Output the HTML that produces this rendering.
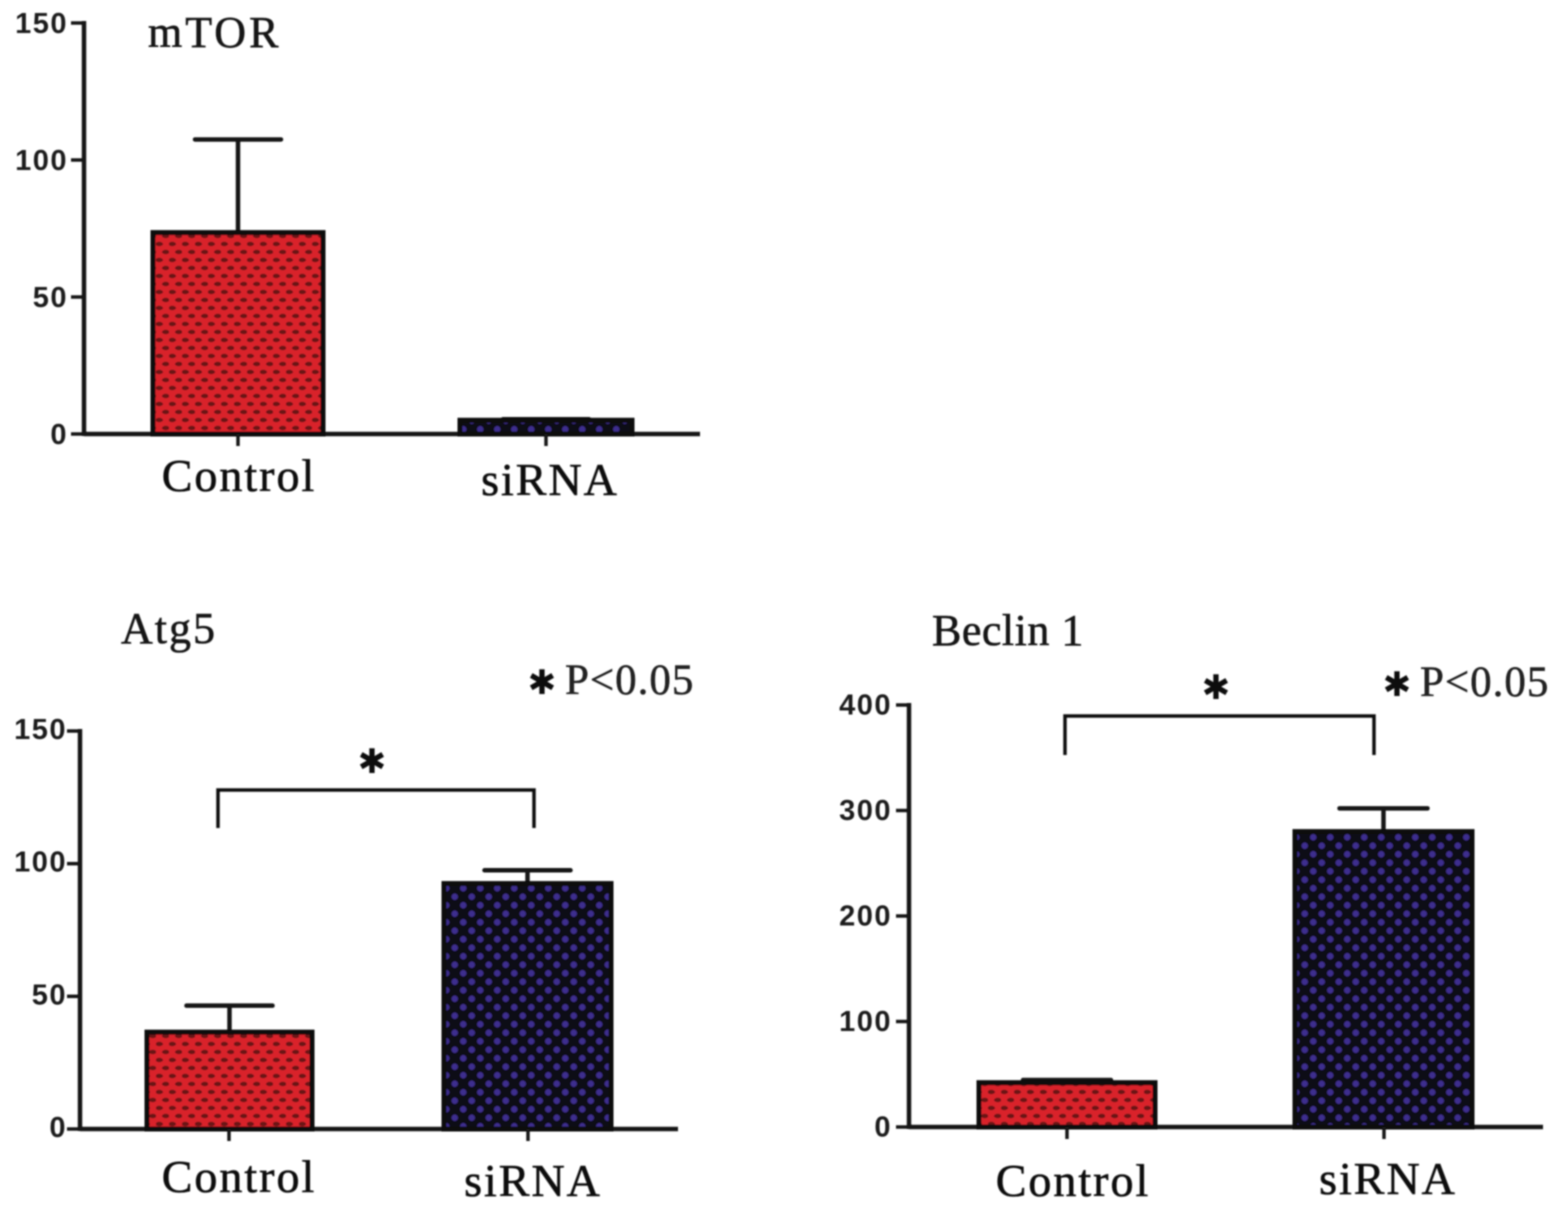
<!DOCTYPE html>
<html lang="en">
<head>
<meta charset="utf-8">
<title>mTOR, Atg5 and Beclin 1 bar charts</title>
<style>
html,body{margin:0;padding:0;background:#fff;}
body{width:1559px;height:1208px;overflow:hidden;}
svg{display:block;}
.tick{font-family:"Liberation Sans",sans-serif;font-weight:bold;font-size:29px;letter-spacing:1.5px;fill:#1c1c1c;text-anchor:end;}
.cat{font-family:"Liberation Serif",serif;font-size:46px;letter-spacing:2px;fill:#111;stroke:#111;stroke-width:0.6px;text-anchor:middle;}
.title{font-family:"Liberation Serif",serif;font-size:44px;fill:#161616;stroke:#161616;stroke-width:0.6px;}
.pval{font-family:"Liberation Serif",serif;font-size:43px;letter-spacing:1px;fill:#222;stroke:#222;stroke-width:0.5px;}
.star{font-family:"DejaVu Sans",sans-serif;font-size:34px;fill:#111;text-anchor:middle;}
</style>
</head>
<body>
<svg id="chart" xmlns="http://www.w3.org/2000/svg" width="1559" height="1208" viewBox="0 0 1559 1208">
  <defs>
    <filter id="soft" x="-2%" y="-2%" width="104%" height="104%"><feGaussianBlur stdDeviation="0.7"/></filter>
    <pattern id="red-fill" patternUnits="userSpaceOnUse" width="13" height="16">
      <rect width="13" height="16" fill="#d92029"/>
      <ellipse cx="3.25" cy="4" rx="3.8" ry="2.2" fill="#6a1416"/>
      <ellipse cx="9.75" cy="12" rx="3.8" ry="2.2" fill="#6a1416"/>
    </pattern>
    <pattern id="navy-fill" patternUnits="userSpaceOnUse" width="17" height="17">
      <rect width="17" height="17" fill="#0d0a16"/>
      <circle cx="4.25" cy="4.25" r="3.2" fill="#3d2d8e"/>
      <circle cx="12.75" cy="12.75" r="3.2" fill="#3d2d8e"/>
    </pattern>
  </defs>
  <g id="plots" filter="url(#soft)"></g>

  <g filter="url(#soft)">
  <text class="title" x="148" y="47" letter-spacing="3">mTOR</text>
  <text class="title" x="121" y="643" letter-spacing="2">Atg5</text>
  <text class="title" x="932" y="645" letter-spacing="0.5">Beclin 1</text>

  <text class="star" x="542" y="694">✱</text>
  <text class="pval" x="565" y="694">P&lt;0.05</text>
  <text class="star" x="1397" y="696">✱</text>
  <text class="pval" x="1420" y="696">P&lt;0.05</text>

  <text class="star" x="372" y="773">✱</text>
  <text class="star" x="1216" y="699">✱</text>

  <path d="M218 828V790H534V828" fill="none" stroke="#111" stroke-width="3.5"/>
  <path d="M1065 755V716H1374V755" fill="none" stroke="#111" stroke-width="3.5"/>
  </g>
</svg>
<script>
const categories = ["Control", "siRNA"];

const mtorValues = [73.5, 5];
const mtorErrors = [34, 0.4];
const mtorTicks = [0, 50, 100, 150];

const atg5Values = [36.5, 92.5];
const atg5Errors = [10, 5];
const atg5Ticks = [0, 50, 100, 150];

const beclinValues = [42, 280];
const beclinErrors = [2.5, 22];
const beclinTicks = [0, 100, 200, 300, 400];

const NS = "http://www.w3.org/2000/svg";
const plots = document.getElementById("plots");

function mk(tag, attrs, text) {
  const el = document.createElementNS(NS, tag);
  for (const k in attrs) el.setAttribute(k, attrs[k]);
  if (text !== undefined) el.textContent = text;
  plots.appendChild(el);
  return el;
}

function drawPanel(p) {
  const maxV = p.ticks[p.ticks.length - 1];
  const y = v => p.y0 + (p.yTop - p.y0) * v / maxV;
  const stroke = "#141414";

  const yAxis = mk("line", {x1: p.axisX, x2: p.axisX, y1: y(maxV) - 2, y2: p.y0 + 2, stroke: stroke, "stroke-width": 4.5});
  
  

  const xAxis = mk("line", {x1: p.axisX, x2: p.axisEnd, y1: p.y0, y2: p.y0, stroke: stroke, "stroke-width": 4.5});
  
  

  p.ticks.forEach(function (t) {
    const tick = mk("line", {x1: p.axisX - 13, x2: p.axisX, y1: y(t), y2: y(t), stroke: stroke, "stroke-width": 3.5});
    
    

    const label = mk("text", {class: "tick", x: p.axisX - p.labelGap, y: y(t) + p.labelDy}, String(t));
    
    
  });

  categories.forEach(function (cat, i) {
    const left = p.barLeft[i];
    const width = p.barWidth[i];
    const mid = left + width / 2;
    const key = cat.toLowerCase();
    const top = y(p.values[i]);
    const errTop = y(p.values[i] + p.errors[i]);

    const stem = mk("line", {x1: mid, x2: mid, y1: errTop, y2: top, stroke: stroke, "stroke-width": 4.5});
    
    

    const cap = mk("line", {x1: mid - p.capHalf, x2: mid + p.capHalf, y1: errTop, y2: errTop, stroke: stroke, "stroke-width": 4.5, "stroke-linecap": "round"});
    
    

    const bar = mk("rect", {x: left, y: top, width: width, height: p.y0 - top, fill: i === 0 ? "url(#red-fill)" : "url(#navy-fill)", stroke: "#0c0c0c", "stroke-width": 5});
    
    

    const xTick = mk("line", {x1: p.tickX[i], x2: p.tickX[i], y1: p.y0, y2: p.y0 + 12, stroke: stroke, "stroke-width": 3.5});
    
    

    const label = mk("text", {class: "cat", x: p.labelX[i], y: p.labelY[i]}, cat);
    
    
  });
}

drawPanel({
  id: "mtor", values: mtorValues, errors: mtorErrors, ticks: mtorTicks,
  axisX: 84, axisEnd: 700, y0: 434, yTop: 23, labelGap: 16, labelDy: 10,
  barLeft: [153, 460], barWidth: [170, 172], capHalf: 43,
  tickX: [238, 546], labelX: [239, 550], labelY: [491, 495]
});
drawPanel({
  id: "atg5", values: atg5Values, errors: atg5Errors, ticks: atg5Ticks,
  axisX: 80, axisEnd: 678, y0: 1129, yTop: 731, labelGap: 13, labelDy: 8,
  barLeft: [147, 444], barWidth: [165, 167], capHalf: 43,
  tickX: [229, 528], labelX: [239, 533], labelY: [1192, 1196]
});
drawPanel({
  id: "beclin", values: beclinValues, errors: beclinErrors, ticks: beclinTicks,
  axisX: 909, axisEnd: 1543, y0: 1127, yTop: 705, labelGap: 17, labelDy: 9.5,
  barLeft: [979, 1295], barWidth: [176, 177], capHalf: 44,
  tickX: [1067, 1384], labelX: [1073, 1388], labelY: [1196, 1194]
});
</script>
</body>
</html>
